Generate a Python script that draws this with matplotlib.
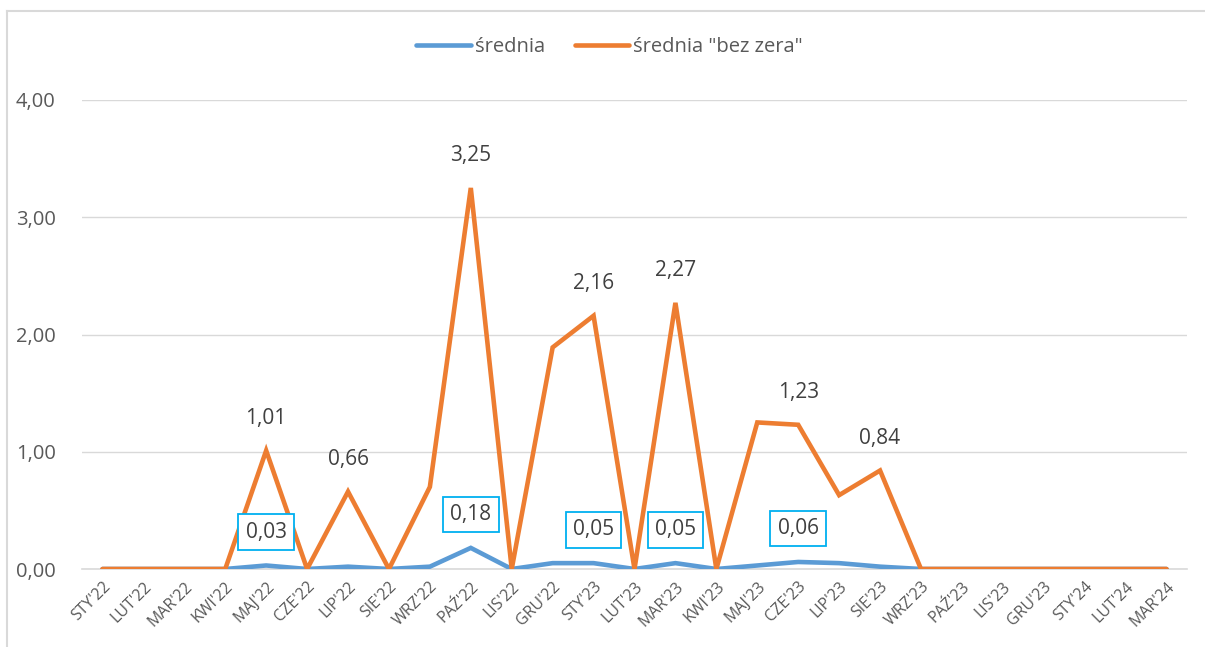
import matplotlib.pyplot as plt
from matplotlib.lines import Line2D

plt.rcParams['font.family'] = ['Open Sans', 'DejaVu Sans']

months = ["STY'22", "LUT'22", "MAR'22", "KWI'22", "MAJ'22", "CZE'22", "LIP'22", "SIE'22",
          "WRZ'22", "PAŹ'22", "LIS'22", "GRU'22", "STY'23", "LUT'23", "MAR'23", "KWI'23",
          "MAJ'23", "CZE'23", "LIP'23", "SIE'23", "WRZ'23", "PAŹ'23", "LIS'23", "GRU'23",
          "STY'24", "LUT'24", "MAR'24"]

srednia = [0, 0, 0, 0, 0.03, 0, 0.02, 0, 0.02, 0.18, 0, 0.05, 0.05, 0, 0.05, 0,
           0.03, 0.06, 0.05, 0.02, 0, 0, 0, 0, 0, 0, 0]
bez_zera = [0, 0, 0, 0, 1.01, 0, 0.66, 0, 0.70, 3.25, 0, 1.89, 2.16, 0, 2.27, 0,
            1.25, 1.23, 0.63, 0.84, 0, 0, 0, 0, 0, 0, 0]

# which points get a data label
blue_labels = [4, 9, 12, 14, 17]
orange_labels = [4, 6, 9, 12, 14, 17, 19]

blue = '#5B9BD5'
orange = '#ED7D31'
txt = '#404040'

fig = plt.figure(figsize=(12.05, 6.47), dpi=100)
ax = fig.add_axes([82 / 1205, 78 / 647, (1187 - 82) / 1205, (569 - 100) / 647])

x = list(range(len(months)))
ax.plot(x, srednia, color=blue, lw=3.3, solid_capstyle='round', solid_joinstyle='miter', zorder=3)
ax.plot(x, bez_zera, color=orange, lw=3.3, solid_capstyle='round', solid_joinstyle='miter', zorder=4)

def fmt(v):
    return f'{v:.2f}'.replace('.', ',')

for i in orange_labels:
    ax.annotate(fmt(bez_zera[i]), (i, bez_zera[i]), xytext=(0, 23), textcoords='offset points',
                ha='center', va='center', fontsize=15, color=txt, zorder=6)

for i in blue_labels:
    ax.annotate(fmt(srednia[i]), (i, srednia[i]), xytext=(0, 24), textcoords='offset points',
                ha='center', va='center', fontsize=15, color=txt, zorder=6,
                bbox=dict(boxstyle='square,pad=0.35', fc='white', ec='#00B0F0', lw=1.3))

ax.set_xlim(-0.5, len(months) - 0.5)
ax.set_ylim(0, 4)
ax.set_yticks([0, 1, 2, 3, 4])
ax.set_yticklabels([fmt(v) for v in [0, 1, 2, 3, 4]])
ax.set_xticks(x)
ax.set_xticklabels(months, rotation=45, ha='right', rotation_mode='anchor')
ax.tick_params(axis='y', length=0, pad=19, labelsize=14.5, labelcolor='#595959')
ax.tick_params(axis='x', length=0, pad=7, labelsize=11.5, labelcolor='#595959')
ax.grid(axis='y', color='#D9D9D9', lw=1)
ax.set_axisbelow(True)
for s in ['top', 'right', 'left']:
    ax.spines[s].set_visible(False)
ax.spines['bottom'].set_color('#D9D9D9')
ax.spines['bottom'].set_linewidth(1.2)

handles = [Line2D([], [], color=blue, lw=3.3, solid_capstyle='round'),
           Line2D([], [], color=orange, lw=3.3, solid_capstyle='round')]
fig.legend(handles, ['średnia', 'średnia "bez zera"'], loc='center', bbox_to_anchor=(0.506, 1 - 47 / 647),
           ncol=2, frameon=False, fontsize=14.5, labelcolor='#595959', handlelength=2.7,
           handletextpad=0.2, columnspacing=1.5)

# chart area border (left and top visible)
fig.add_artist(Line2D([7 / 1205, 7 / 1205], [0, 1 - 11 / 647], color='#D9D9D9', lw=1.5, transform=fig.transFigure))
fig.add_artist(Line2D([7 / 1205, 1], [1 - 11 / 647, 1 - 11 / 647], color='#D9D9D9', lw=1.5, transform=fig.transFigure))

fig.savefig('out.png', dpi=100)
